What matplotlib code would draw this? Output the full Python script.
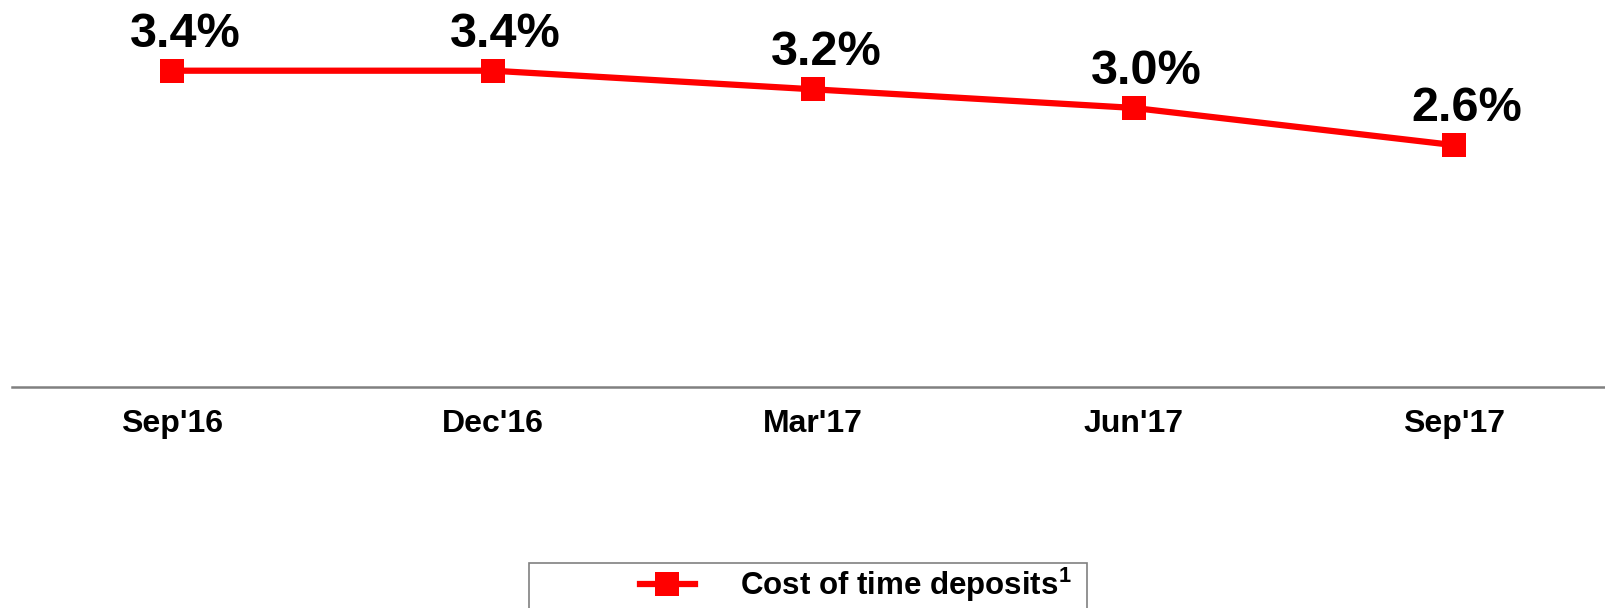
import matplotlib
matplotlib.use("Agg")
import matplotlib.pyplot as plt
import matplotlib.patheffects as pe
from matplotlib.patches import Rectangle

plt.rcParams['font.family'] = ['Liberation Sans', 'DejaVu Sans']
plt.rcParams['mathtext.fontset'] = 'custom'
plt.rcParams['mathtext.bf'] = 'Liberation Sans:bold'
plt.rcParams['mathtext.rm'] = 'Liberation Sans:bold'

# data
quarters = ["Sep'16", "Dec'16", "Mar'17", "Jun'17", "Sep'17"]
cost_time_deposits = [3.4, 3.4, 3.2, 3.0, 2.6]
labels = ["3.4%", "3.4%", "3.2%", "3.0%", "2.6%"]
series_name = "Cost of time deposits$^{\\mathbf{1}}$"

W, H = 1606, 608
fig = plt.figure(figsize=(W / 100, H / 100), dpi=100)
ax = fig.add_axes([12 / W, 1 - 387 / H, 1 - 12 / W, 387 / H])

x = list(range(len(quarters)))
shadow = [pe.SimpleLineShadow(offset=(1.5, -2.5), shadow_color='k', alpha=0.25), pe.Normal()]
line, = ax.plot(x, cost_time_deposits, color='#FF0000', lw=4.5, marker='s',
                markersize=17, markeredgewidth=0, solid_joinstyle='miter',
                label=series_name, zorder=3)
ax.plot(x, cost_time_deposits, ls='none', color='#FF0000', marker='s',
        markersize=17, markeredgewidth=0, path_effects=shadow, zorder=4)

for xi, v, t in zip(x, cost_time_deposits, labels):
    ax.annotate(t, (xi, v), xytext=(13, 24), textcoords='offset pixels',
                ha='center', va='baseline', fontsize=35, fontweight='bold')

ax.set_xlim(-0.5, 4.474)
ax.set_ylim(0, 4.16)
ax.set_xticks(x)
ax.set_xticklabels(quarters, fontsize=23, fontweight='bold')
ax.tick_params(axis='x', length=0, pad=16)
ax.set_yticks([])
for s in ['top', 'left', 'right']:
    ax.spines[s].set_visible(False)
ax.spines['bottom'].set_color('#808080')
ax.spines['bottom'].set_linewidth(1.8)
ax.patch.set_visible(False)

# legend box (cut off by the bottom edge as in the original)
fig.patches.append(Rectangle((529 / W, -0.2), (1087 - 529) / W, 0.2 + 1 - 563 / H,
                             transform=fig.transFigure, fill=False,
                             edgecolor='#808080', linewidth=1.2))
leg = fig.legend(handles=[line], loc='center left',
                 bbox_to_anchor=(640 / W, 1 - 585 / H), frameon=False,
                 borderpad=0, borderaxespad=0, handlelength=1.75,
                 handletextpad=1.45,
                 prop={'size': 22.5, 'weight': 'bold'})

fig.savefig('out.png', dpi=100)
